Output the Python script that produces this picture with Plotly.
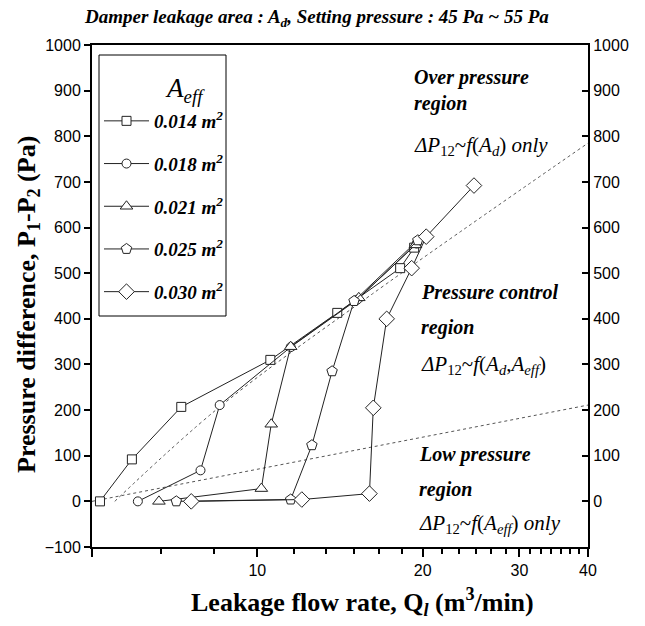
import plotly.graph_objects as go

# ---- data ----
q_014 = [5.17, 5.91, 7.27, 10.56, 13.98, 18.2, 19.3]
p_014 = [0, 92, 207, 310, 413, 511, 556]
q_018 = [6.06, 7.88, 8.54, 11.5, 15.2, 19.5]
p_018 = [0, 68, 211, 338, 442, 565]
q_021 = [6.62, 10.17, 10.6, 11.5, 15.3, 19.4]
p_021 = [0, 28, 169, 339, 446, 562]
q_025 = [7.12, 11.5, 12.57, 13.68, 15.0, 19.6]
p_025 = [0, 4, 123, 285, 439, 572]
q_030 = [7.58, 12.05, 16.0, 16.26, 17.2, 19.1, 20.3, 24.8]
p_030 = [0, 4, 17, 205, 400, 511, 580, 692]

# dotted boundary lines
q_upper = [5.5, 8.5, 16.0, 40.0]
p_upper = [0, 205, 450, 785]
q_lower = [5.0, 40.0]
p_lower = [0, 211]

series = [
    ("0.014", q_014, p_014, "square", 9),
    ("0.018", q_018, p_018, "circle", 9),
    ("0.021", q_021, p_021, "triangle-up", 11),
    ("0.025", q_025, p_025, "pentagon", 11),
    ("0.030", q_030, p_030, "diamond", 12),
]

x_major = [5, 10, 20, 30, 40]
x_major_text = ["", "10", "20", "30", "40"]
x_minor = [6.667, 8.333, 11.667, 13.333, 15, 16.667, 18.333, 21.667, 23.333,
           25, 26.667, 28.333, 31.43, 32.86, 34.29, 35.71, 37.14, 38.57]
y_ticks = [-100, 0, 100, 200, 300, 400, 500, 600, 700, 800, 900, 1000]
y_ticks_right = [0, 100, 200, 300, 400, 500, 600, 700, 800, 900, 1000]

SERIF = "Liberation Serif"
SANS = "Liberation Sans"

fig = go.Figure()

fig.add_trace(go.Scatter(x=q_upper, y=p_upper, mode="lines", line=dict(color="#555", width=1, dash="dot", shape="spline"),
                         showlegend=False, hoverinfo="skip"))
fig.add_trace(go.Scatter(x=q_lower, y=p_lower, mode="lines", line=dict(color="#555", width=1, dash="dot"),
                         showlegend=False, hoverinfo="skip"))

for name, qx, py, sym, sz in series:
    fig.add_trace(go.Scatter(
        x=qx, y=py, mode="lines+markers", name=f"<b><i>{name} m<sup>2</sup></i></b>",
        legendgroup=name,
        line=dict(color="#222", width=1),
        marker=dict(symbol=sym, size=sz, color="white", line=dict(color="#222", width=1)),
    ))

# invisible trace on right axis
fig.add_trace(go.Scatter(x=[10], y=[0], yaxis="y2", mode="markers", marker=dict(opacity=0),
                         showlegend=False, hoverinfo="skip"))

L, R, T, B = 92, 57, 45, 79
W, H = 645, 626

def px2paper(px, py):
    return (px - L) / (W - L - R), (H - B - py) / (H - T - B)

lx, ly = px2paper(99, 102)

fig.update_layout(
    width=W, height=H,
    margin=dict(l=L, r=R, t=T, b=B),
    paper_bgcolor="white", plot_bgcolor="white",
    font=dict(family=SANS, size=16, color="black"),
    xaxis=dict(type="log", range=[0.69897, 1.60206], tickmode="array", tickvals=x_major, ticktext=x_major_text,
               ticks="outside", ticklen=8, tickwidth=2, tickcolor="black",
               showline=True, linewidth=2, linecolor="black", mirror=True, showgrid=False, zeroline=False,
               tickfont=dict(family=SANS, size=16),
               minor=dict(tickmode="array", tickvals=x_minor, ticks="outside", ticklen=5, tickwidth=2,
                          tickcolor="black", showgrid=False)),
    yaxis=dict(range=[-100, 1000], tickmode="array", tickvals=y_ticks, ticks="outside", ticklen=6, tickwidth=2,
               tickcolor="black", showline=True, linewidth=2, linecolor="black", showgrid=False, zeroline=False,
               tickfont=dict(family=SANS, size=16)),
    yaxis2=dict(range=[-100, 1000], overlaying="y", side="right", tickmode="array", tickvals=y_ticks_right,
                ticks="inside", ticklen=6, tickwidth=2, tickcolor="black", showline=True, linewidth=2,
                linecolor="black", showgrid=False, zeroline=False, tickfont=dict(family=SANS, size=16)),
    legend=dict(x=lx, y=ly, xanchor="left", yanchor="top", borderwidth=0,
                bgcolor="rgba(0,0,0,0)", font=dict(family=SERIF, size=19), tracegroupgap=15, itemwidth=45),
    showlegend=True,
)

# legend frame
x0, y0 = px2paper(99, 55)
x1, y1 = px2paper(226, 316)
fig.add_shape(type="rect", xref="paper", yref="paper", x0=x0, y0=y1, x1=x1, y1=y0,
              line=dict(color="black", width=1), fillcolor="rgba(0,0,0,0)")

ann = []

def txt(px, py, s, size, anchor="left", angle=0):
    x, y = px2paper(px, py)
    ann.append(dict(xref="paper", yref="paper", x=x, y=y, xanchor=anchor, yanchor="middle", showarrow=False,
                    text=s, textangle=angle, font=dict(family=SERIF, size=size, color="black")))

txt(185, 90, "<i>A</i><sub><i>eff</i></sub>", 27, "center")

for (px, py, s, size) in [
    (412, 77, "<b><i>Over pressure</i></b>", 20),
    (412, 103, "<b><i>region</i></b>", 20),
    (412, 146, "<i>ΔP</i><sub>12</sub>~<i>f</i>(<i>A</i><sub><i>d</i></sub>) <i>only</i>", 21),
    (419, 292, "<b><i>Pressure control</i></b>", 20),
    (419, 327, "<b><i>region</i></b>", 20),
    (419, 365, "<i>ΔP</i><sub>12</sub>~<i>f</i>(<i>A</i><sub><i>d</i></sub>,<i>A</i><sub><i>eff</i></sub>)", 21),
    (417, 455, "<b><i>Low pressure</i></b>", 20),
    (417, 489, "<b><i>region</i></b>", 20),
    (417, 524, "<i>ΔP</i><sub>12</sub>~<i>f</i>(<i>A</i><sub><i>eff</i></sub>) <i>only</i>", 21),
]:
    txt(px, py, s, size)

# title and axis titles
txt(316, 18, "<b><i>Damper leakage area : A<sub>d</sub>, Setting pressure : 45 Pa ~ 55 Pa</i></b>", 19, "center")
txt(362, 602, "<b>Leakage flow rate, Q<sub><i>l</i></sub> (m<sup>3</sup>/min)</b>", 26, "center")
txt(28, 305, "<b>Pressure difference, P<sub>1</sub>-P<sub>2</sub> (Pa)</b>", 26, "center", -90)

fig.update_layout(annotations=ann)

fig.write_html("out.html", config={"displayModeBar": False},
               post_script="document.body.style.margin='0';document.body.style.overflow='hidden';")
